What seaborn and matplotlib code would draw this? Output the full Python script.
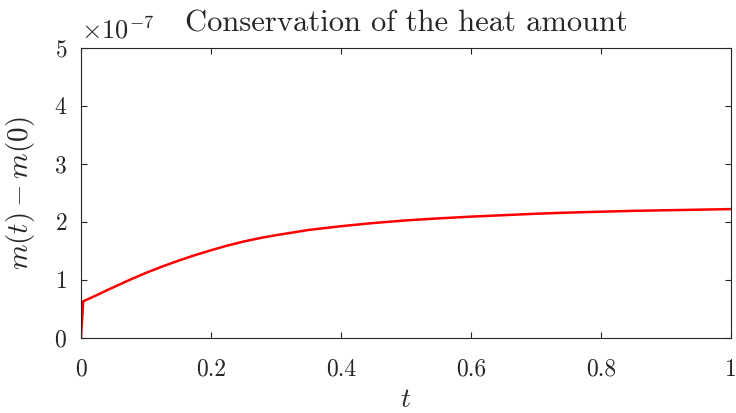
import numpy as np
import pandas as pd
import seaborn as sns
import matplotlib
matplotlib.use("Agg")
import matplotlib.pyplot as plt
from matplotlib import ticker

# values (m(t) - m(0), in units of 1e-7)
t_values = [0.0, 0.0035, 0.025, 0.04, 0.075, 0.1, 0.125, 0.15, 0.175, 0.2,
            0.225, 0.25, 0.275, 0.3, 0.35, 0.4, 0.45, 0.5, 0.55, 0.6, 0.65,
            0.7, 0.75, 0.8, 0.85, 0.9, 0.95, 1.0]
dm_values = [0.0, 0.63, 0.74, 0.82, 1.00, 1.12, 1.23, 1.33, 1.425, 1.51,
             1.59, 1.66, 1.72, 1.77, 1.86, 1.925, 1.98, 2.025, 2.06, 2.09,
             2.115, 2.14, 2.16, 2.175, 2.19, 2.20, 2.21, 2.22]
x_ticks = [0, 0.2, 0.4, 0.6, 0.8, 1]
y_ticks = [0, 1, 2, 3, 4, 5]

df = pd.DataFrame({"t": t_values, "dm": np.array(dm_values) * 1e-7})

sns.set_style("ticks")
plt.rcParams['font.family'] = ['cmr10', 'DejaVu Serif']
plt.rcParams['mathtext.fontset'] = 'cm'
plt.rcParams['axes.formatter.use_mathtext'] = True
plt.rcParams['axes.unicode_minus'] = False

fig = plt.figure(figsize=(7.36, 4.13), dpi=100)
ax = fig.add_axes([0.110, 0.182, 0.883, 0.702])

sns.lineplot(data=df, x="t", y="dm", color="red", linewidth=1.8,
             estimator=None, ax=ax)

ax.set_xlim(0, 1)
ax.set_ylim(0, 5e-7)
ax.set_xticks(x_ticks)
ax.set_yticks([v * 1e-7 for v in y_ticks])
ax.xaxis.set_major_formatter(ticker.FuncFormatter(lambda v, p: f"{v:g}"))
fmt = ticker.ScalarFormatter(useMathText=True)
fmt.set_powerlimits((0, 0))
ax.yaxis.set_major_formatter(fmt)
ax.yaxis.OFFSETTEXTPAD = 7
ax.yaxis.get_offset_text().set_fontsize(19)
ax.yaxis.get_offset_text().set_color("#262626")

for side in ax.spines.values():
    side.set_color("#262626")
    side.set_linewidth(0.8)
ax.tick_params(direction="in", top=True, right=True, length=4,
               width=0.8, color="#262626", labelsize=17, labelcolor="#262626")
ax.tick_params(axis="x", pad=15)
ax.tick_params(axis="y", pad=10)

ax.set_xlabel("$t$", fontsize=20, color="#262626", labelpad=4)
ax.set_ylabel("$m(t) - m(0)$", fontsize=21, color="#262626", labelpad=12)
ax.set_title("Conservation of the heat amount", fontsize=22,
             color="#262626", pad=12)

fig.savefig("out.png", dpi=100)
